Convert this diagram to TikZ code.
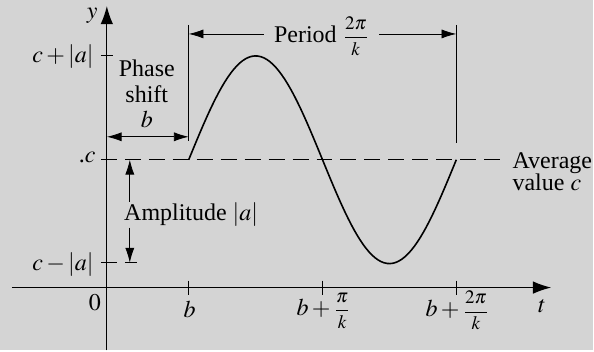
\documentclass[tikz,border=0pt]{standalone}
\usepackage{mathptmx}
\usepackage{fontspec}
\setmainfont{Liberation Serif}
\usetikzlibrary{arrows.meta, calc}
\definecolor{paper}{RGB}{212, 212, 212}
\tikzset{
	axis/.style={-{Latex[length=3.2mm, width=2.2mm]}, semithick},
	dim/.style={{Latex[length=2.6mm, width=1.6mm]}-{Latex[length=2.6mm, width=1.6mm]}, thin},
	onearrow/.style={-{Latex[length=2.6mm, width=1.6mm]}, thin},
	guide/.style={thin},
	dashline/.style={semithick, dash pattern=on 8pt off 4pt},
	wave/.style={thick},
	lbl/.style={inner sep=1pt, font=\fontsize{12}{12}\selectfont},
}
\newcommand{\bigfr}[2]{\mbox{\fontsize{9.5}{9.5}\selectfont$\displaystyle\frac{#1}{#2}$}}

\begin{document}
\begin{tikzpicture}[x=0.5pt, y=-0.5pt]
		\fill[paper] (0,0) rectangle (594,351);
		% axes
		\coordinate (xs) at (12,288);
		\coordinate (xe) at (552,288);
		\coordinate (ys) at (107,351);
		\coordinate (ye) at (107,6);
		\draw[axis] (xs) -- (xe);
		\draw[axis] (ys) -- (ye);
		\node[lbl, anchor=east] (ylab) at (100,16) {$y$};
		\node[lbl] (tlab) at (543,307) {$t$};
		\node[lbl] (zero) at (95,303) {$0$};
		% ticks on t
		\coordinate (tb) at (189,288);
		\coordinate (tm) at (323,288);
		\coordinate (te) at (457,288);
		\foreach \p in {tb,tm,te}{\draw[guide] ($(\p)+(0,-7)$) -- ($(\p)+(0,7)$);}
		\node[lbl] (bl) at (190,310) {$b$};
		\node[lbl] (bml) at (324,311) {$b+\bigfr{\pi}{k}$};
		\node[lbl] (bel) at (458,311) {$b+\bigfr{2\pi}{k}$};
		% levels on y
		\coordinate (top) at (107,55);
		\coordinate (mid) at (107,160);
		\coordinate (bot) at (107,263);
		\draw[guide] ($(top)+(-6,0)$) -- ($(top)+(6,0)$);
		\node[lbl, anchor=east] (cpa) at (96,57) {$c+|a|$};
		\node[lbl, anchor=east] (cl) at (98,158) {.$c$};
		\node[lbl, anchor=east] (cma) at (96,265) {$c-|a|$};
		\coordinate (midend) at (502,160);
		\coordinate (botend) at (137,263);
		\draw[dashline] ($(mid)+(-6,0)$) -- (midend);
		\draw[dashline] ($(bot)+(-6,0)$) -- (botend);
		\node[lbl, align=left, anchor=west] (avg) at (511,172) {Average\\[-1pt]value $c$};
		% curve
		\draw[wave] plot[domain=189:457, samples=90] (\x, {160-104*sin((\x-189)/134*180)});
		% period
		\coordinate (pl) at (189,34);
		\coordinate (pr) at (457,34);
		\draw[guide] (189,25) -- (189,141);
		\draw[guide] (457,25) -- (457,143);
		\node[lbl, inner xsep=5pt] (per) at (322,36) {Period $\bigfr{2\pi}{k}$};
		\draw[onearrow] (per.west |- pl) -- (pl);
		\draw[onearrow] (per.east |- pr) -- (pr);
		% phase shift
		\node[lbl, align=center] (phs) at (147,81) {Phase\\[1pt]shift};
		\node[lbl] (phb) at (147,120) {$b$};
		\coordinate (sl) at (107,137);
		\coordinate (sr) at (189,137);
		\draw[dim] (sl) -- (sr);
		% amplitude
		\node[lbl, anchor=west] (amp) at (122,215) {Amplitude $|a|$};
		\coordinate (au) at (130,160);
		\coordinate (ad) at (130,263);
		\draw[onearrow] (130,202) -- (au);
		\draw[onearrow] (130,228) -- (ad);
	\end{tikzpicture}
\end{document}
